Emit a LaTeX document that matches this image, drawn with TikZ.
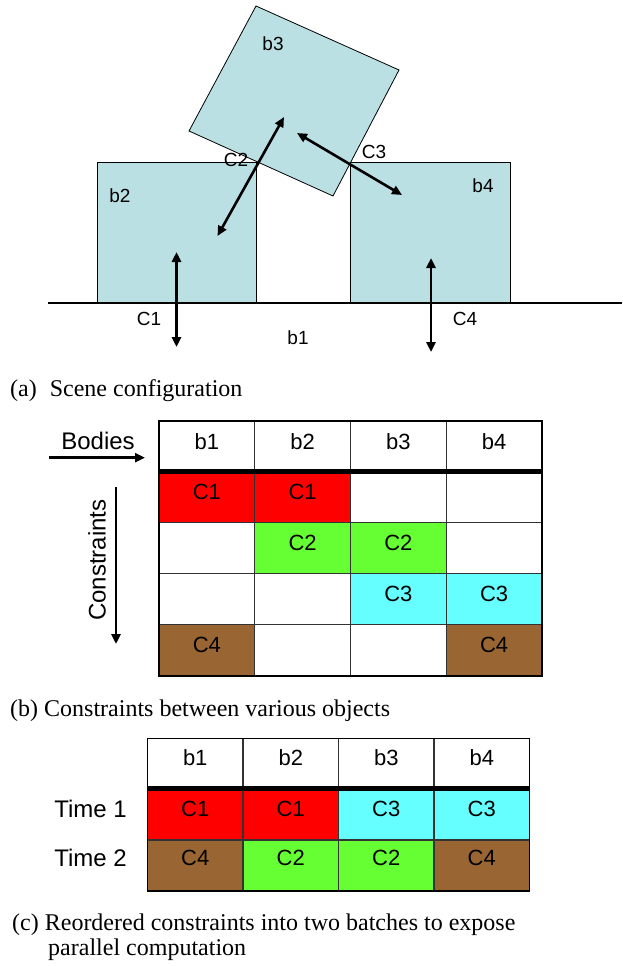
\documentclass[tikz,border=0pt]{standalone}
\usepackage{fontspec}
\setmainfont{Liberation Serif}
\setsansfont{Liberation Sans}
\usetikzlibrary{arrows.meta}
\definecolor{boxblue}{RGB}{187,224,227}
\definecolor{cred}{RGB}{255,0,0}
\definecolor{cgreen}{RGB}{102,255,51}
\definecolor{ccyan}{RGB}{102,255,255}
\definecolor{cbrown}{RGB}{153,102,51}
\begin{document}
\begin{tikzpicture}[x=1pt,y=-1pt,
  body/.style={draw=black, line width=0.8pt, fill=boxblue},
  slabel/.style={font=\sffamily\fontsize{19}{21}\selectfont, inner sep=0pt},
  tlabel/.style={font=\sffamily\fontsize{22}{24}\selectfont, inner sep=0pt},
  biglabel/.style={font=\sffamily\fontsize{24}{26}\selectfont, inner sep=0pt},
  captext/.style={font=\rmfamily\fontsize{24}{25}\selectfont, inner sep=0pt, anchor=base west},
  force/.style={line width=2.6pt, {Triangle[length=10pt,width=9pt]}-{Triangle[length=10pt,width=9pt]}},
  pointer/.style={line width=2.6pt, -{Triangle[length=10pt,width=9pt]}},
  grid/.style={draw=black!80, line width=1.2pt},
  border/.style={draw=black, line width=1.8pt},
  headline/.style={draw=black, line width=5pt}
]
\useasboundingbox (0,0) rectangle (622,966);

% ---------- (a) scene ----------
\node[body, minimum width=159pt, minimum height=141pt, anchor=north west, inner sep=0pt] (b2box) at (97,162) {};
\node[body, minimum width=160pt, minimum height=141pt, anchor=north west, inner sep=0pt] (b4box) at (350,162) {};
\coordinate (b3t) at (256,6);
\coordinate (b3r) at (399,70);
\coordinate (b3b) at (333,196);
\coordinate (b3l) at (189,131);
\draw[body] (b3t) -- (b3r) -- (b3b) -- (b3l) -- cycle;
\coordinate (g0) at (48,303);
\coordinate (g1) at (622,303);
\draw[line width=1.2pt] (g0) -- (g1);

\coordinate (c1a) at (176.5,252);
\coordinate (c1b) at (176.5,347);
\coordinate (c4a) at (431,258);
\coordinate (c4b) at (431,352);
\coordinate (c2a) at (217.5,236);
\coordinate (c2b) at (284,117);
\coordinate (c3a) at (297,133);
\coordinate (c3b) at (402,195);
\draw[force] (c1a) -- (c1b);
\draw[force] (c4a) -- (c4b);
\draw[force] (c2a) -- (c2b);
\draw[force] (c3a) -- (c3b);

\node[slabel] (lb2) at (120,196) {b2};
\node[slabel] (lb4) at (483,186) {b4};
\node[slabel] (lb3) at (273,44) {b3};
\node[slabel] (lc2) at (236,160) {C2};
\node[slabel] (lc3) at (374,152) {C3};
\node[slabel] (lc1) at (149,319) {C1};
\node[slabel] (lc4) at (465,319) {C4};
\node[slabel] (lb1) at (298,338) {b1};

\node[captext] (capa) at (10,396) {(a)\hspace{13pt}Scene configuration};

% ---------- (b) table ----------
\foreach \c/\r/\col in {0/0/cred,1/0/cred,1/1/cgreen,2/1/cgreen,2/2/ccyan,3/2/ccyan,0/3/cbrown,3/3/cbrown}
  \fill[\col] ({159+\c*95.75},{471.5+\r*51.1}) rectangle ++(95.75,51.1);
\foreach \i in {1,2,3}{
  \draw[grid] ({159+\i*95.75},421) -- ({159+\i*95.75},676);
  \draw[grid] (159,{471.5+\i*51.1}) -- (542,{471.5+\i*51.1});
}
\draw[headline] (159,471.5) -- (542,471.5);
\draw[border] (159,421) rectangle (542,676);
\foreach \t [count=\c from 0] in {b1,b2,b3,b4}
  \node[tlabel] (hb\c) at ({206.9+\c*95.75},442) {\t};
\foreach \c/\r/\t in {0/0/C1,1/0/C1,1/1/C2,2/1/C2,2/2/C3,3/2/C3,0/3/C4,3/3/C4}
  \node[tlabel] (cb\c\r) at ({206.9+\c*95.75},{492+\r*51.1}) {\t};

\node[biglabel] (bodies) at (98,441) {Bodies};
\coordinate (ba) at (49,457.7);
\coordinate (bb) at (145,457.7);
\draw[pointer] (ba) -- (bb);
\node[biglabel, rotate=90] (constr) at (97,560) {Constraints};
\coordinate (ca) at (116,487);
\coordinate (cb) at (116,644);
\draw[pointer] (ca) -- (cb);

\node[captext] (capb) at (10,716) {(b) Constraints between various objects};

% ---------- (c) table ----------
\foreach \c/\r/\col in {0/0/cred,1/0/cred,2/0/ccyan,3/0/ccyan,0/1/cbrown,1/1/cgreen,2/1/cgreen,3/1/cbrown}
  \fill[\col] ({147.5+\c*95.5},{788+\r*51.5}) rectangle ++(95.5,51.5);
\foreach \i in {1,2,3}
  \draw[grid] ({147.5+\i*95.5},738.5) -- ({147.5+\i*95.5},891);
\draw[grid] (147.5,840) -- (529.5,840);
\draw[headline] (147.5,788) -- (529.5,788);
\draw[border] (147.5,738.5) rectangle (529.5,891);
\foreach \t [count=\c from 0] in {b1,b2,b3,b4}
  \node[tlabel] (hc\c) at ({195.25+\c*95.5},758) {\t};
\foreach \c/\t in {0/C1,1/C1,2/C3,3/C3}
  \node[tlabel] (cc\c a) at ({195.25+\c*95.5},809) {\t};
\foreach \c/\t in {0/C4,1/C2,2/C2,3/C4}
  \node[tlabel] (cc\c b) at ({195.25+\c*95.5},858) {\t};
\node[biglabel] (time1) at (90.5,809) {Time 1};
\node[biglabel] (time2) at (90.5,858) {Time 2};

\node[captext] (capc1) at (12,930) {(c) Reordered constraints into two batches to expose};
\node[captext] (capc2) at (48,955) {parallel computation};
\end{tikzpicture}
\end{document}
